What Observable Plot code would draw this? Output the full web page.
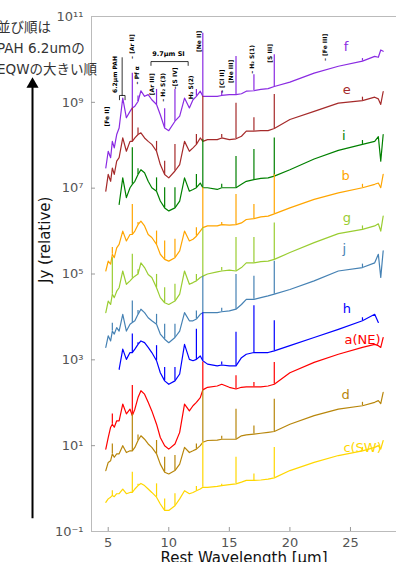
<!DOCTYPE html>
<html><head><meta charset="utf-8">
<script src="https://cdn.jsdelivr.net/npm/d3@7"></script>
<script src="https://cdn.jsdelivr.net/npm/@observablehq/plot@0.6"></script>
<style>
html,body{margin:0;padding:0;background:#fff;overflow:hidden;}
#wrap{position:relative;width:396px;height:562px;overflow:hidden;}
#title{position:absolute;left:-3px;top:17px;font-family:"DejaVu Sans","Noto Sans CJK JP",sans-serif;font-size:13.5px;line-height:21px;color:#333;white-space:nowrap;}
</style></head>
<body><div id="wrap"><div id="chart"></div><div id="title">並び順は<br>PAH 6.2umの<br>EQWの大きい順</div></div>
<script>
// ---- data (flux values stored as log10 of relative Jy) ----
const wavelength = [4.8,5.0,5.2,5.34,5.5,5.7,5.9,6.2,6.5,6.8,6.99,7.2,7.46,7.7,8.0,8.3,8.6,8.99,9.3,9.66,10.0,10.51,10.9,11.3,11.7,12.0,12.28,12.6,12.81,13.2,14.0,14.37,15.0,15.55,16.0,16.4,17.03,17.6,18.2,18.71,20.0,22.0,24.0,25.99,27.0,27.3,27.5,27.7];
const lineWavelengths = [5.34,6.99,7.46,8.99,9.66,10.51,12.28,12.81,14.37,15.55,17.03,18.71,25.99];

const seriesNames = ["f","e","i","b","g","j","h","a(NE)","d","c(SW)"];
const seriesColors = ["#8a2be2","#a52a2a","#008000","#ffa500","#9acd32","#4682b4","#0000ff","#ff0000","#b8860b","#ffd700"];

const f_log = [7.47,7.86,7.71,8.09,7.94,8.25,8.40,9.10,8.64,8.79,8.87,8.91,9.02,9.27,9.14,9.18,9.06,8.95,8.71,8.40,8.34,8.56,8.68,9.10,8.87,9.06,9.14,9.26,9.14,9.14,9.14,9.16,9.18,9.18,9.20,9.26,9.27,9.30,9.32,9.37,9.47,9.68,9.84,9.96,10.07,10.05,10.22,10.19];
const f_lines = [null,9.68,9.15,9.30,8.85,9.30,9.30,10.61,9.26,10.07,9.64,10.11,10.02];

const e_log = [6.93,7.32,7.16,7.47,7.32,7.63,7.71,8.17,7.86,8.09,8.09,8.17,8.25,8.29,8.17,8.09,8.02,7.86,7.55,7.32,7.24,7.40,7.55,8.09,7.86,7.94,8.02,8.17,8.09,8.13,8.13,8.17,8.13,8.15,8.21,8.33,8.33,8.34,8.34,8.39,8.60,8.79,8.98,9.04,9.12,9.08,8.95,9.25];
const e_lines = [null,8.87,8.40,8.09,7.63,8.02,8.25,9.14,8.25,8.98,8.64,9.18,9.12];

const i_log = [null,null,null,null,null,null,6.62,7.24,6.78,7.01,7.09,7.16,7.32,7.43,7.36,7.16,7.01,6.93,6.70,6.54,6.47,6.54,6.70,7.24,6.93,6.97,7.01,7.12,7.01,7.01,6.97,7.01,7.01,7.01,7.09,7.16,7.20,7.23,7.24,7.28,7.43,7.68,7.88,8.02,8.09,8.20,7.63,8.25];
const i_lines = [null,7.94,7.45,7.24,7.01,7.01,7.32,8.13,7.09,7.74,7.90,8.17,8.11];

const b_log = [5.07,5.30,5.23,5.46,5.38,5.61,5.69,6.00,5.77,5.92,5.92,6.00,6.15,6.23,6.12,5.92,5.85,5.69,5.46,5.34,5.30,5.38,5.54,6.00,5.77,5.81,5.88,6.00,6.08,6.12,6.12,6.15,6.14,6.15,6.19,6.27,6.29,6.33,6.35,6.40,6.54,6.74,6.89,7.01,7.09,7.12,7.01,7.32];
const b_lines = [5.62,6.62,6.20,6.00,5.77,5.81,6.08,7.01,6.20,6.85,6.62,7.32,7.09];

const g_log = [4.10,4.37,4.29,4.53,4.45,4.60,4.68,5.07,4.76,4.84,4.90,4.95,5.00,5.26,5.15,4.99,4.92,4.68,4.45,4.33,4.29,4.37,4.53,5.07,4.76,4.80,4.84,4.92,4.95,5.00,5.05,5.07,5.09,5.07,5.15,5.26,5.26,5.29,5.30,5.34,5.50,5.73,5.94,6.04,6.12,6.17,6.00,6.35];
const g_lines = [5.38,5.46,5.10,4.99,4.68,4.76,4.99,6.08,5.15,5.85,5.85,6.19,6.12];

const j_log = [3.29,3.56,3.44,3.67,3.60,3.75,3.67,4.06,3.67,3.83,3.87,3.91,4.06,4.18,4.10,3.98,3.91,3.83,3.60,3.48,3.40,3.52,3.67,4.10,3.91,3.91,3.95,4.06,4.10,4.10,4.10,4.12,4.14,4.18,4.29,4.41,4.41,4.45,4.49,4.53,4.64,4.84,5.07,5.15,5.26,5.46,4.92,5.54];
const j_lines = [3.85,4.37,4.15,4.06,3.83,3.83,4.14,4.95,4.20,4.99,4.95,5.30,5.23];

const h_log = [null,null,null,null,null,null,2.78,3.25,3.01,3.17,3.17,3.25,3.36,3.44,3.40,3.29,3.17,2.98,2.70,2.51,2.43,2.51,2.67,3.36,3.01,2.98,3.01,3.09,2.98,2.90,2.86,2.88,2.86,2.86,3.05,3.13,3.17,3.17,3.17,3.21,3.33,3.52,3.71,3.91,4.06,3.87,null,null];
const h_lines = [null,3.60,3.40,3.33,2.82,2.82,3.71,4.10,2.95,3.64,4.26,3.91,3.98];

const a_log = [0.92,1.19,1.43,1.50,1.43,1.58,1.58,1.97,1.74,1.85,1.70,1.85,2.12,2.28,2.20,2.01,1.81,1.50,1.19,1.00,0.92,1.04,1.31,1.97,1.81,1.93,2.01,2.12,2.30,2.36,2.39,2.43,2.36,2.32,2.36,2.37,2.37,2.37,2.39,2.43,2.70,2.94,3.13,3.29,3.36,3.33,3.29,3.52];
const a_lines = [1.74,2.40,null,null,null,null,null,2.95,null,2.63,2.47,2.94,null];

const d_log = [0.42,0.61,0.65,0.81,0.73,0.81,0.81,1.00,0.84,0.88,0.88,0.96,1.12,1.23,1.15,1.04,0.96,0.81,0.57,0.38,0.34,0.42,0.57,0.96,0.84,0.88,0.92,1.00,1.08,1.12,1.13,1.15,1.15,1.15,1.23,1.25,1.27,1.29,1.31,1.33,1.50,1.70,1.85,1.93,2.01,2.05,1.98,2.24];
const d_lines = [1.04,1.74,1.25,1.12,0.73,0.77,1.04,2.30,1.22,1.85,1.46,2.08,2.01];

const c_log = [-0.32,-0.24,-0.20,-0.16,-0.19,-0.12,-0.12,-0.01,-0.12,-0.09,-0.09,-0.01,0.07,0.12,0.07,-0.01,-0.09,-0.20,-0.36,-0.51,-0.51,-0.40,-0.24,-0.05,-0.12,-0.09,-0.05,-0.01,0.03,0.03,0.05,0.07,0.09,0.11,0.15,0.19,0.19,0.20,0.22,0.25,0.42,0.61,0.77,0.88,0.96,1.00,0.92,1.12];
const c_lines = [-0.05,0.38,0.10,0.11,-0.24,-0.12,0.05,1.08,0.10,0.73,0.34,0.96,0.96];

const seriesLogs = [f_log,e_log,i_log,b_log,g_log,j_log,h_log,a_log,d_log,c_log];
const seriesLines = [f_lines,e_lines,i_lines,b_lines,g_lines,j_lines,h_lines,a_lines,d_lines,c_lines];

// series label positions (wavelength, log10 flux)
const labelWl  = [24.64,24.7,24.45,24.6,24.7,24.5,24.7,26.0,24.6,26.0];
const labelLog = [10.30,9.30,8.21,7.28,6.30,5.58,4.19,3.47,2.19,0.95];

// feature annotations
const annotText  = ["[Fe II]","6.2μm PAH","– [Ar II]","– Pf α","[Ar III]","– H₂ S(3)","–[S IV]","H₂ S(2)","[Ne II]","– [Cl II]","[Ne III]","– H₂ S(1)","[S III]","– [Fe III]"];
const annotWl    = [4.94,5.6,6.93,7.42,8.58,9.57,10.48,11.88,12.5,14.40,15.15,16.84,18.37,22.9];
const annotLog   = [8.67,9.65,10.30,9.63,9.42,9.35,9.56,9.35,10.42,9.49,9.72,10.0,10.14,10.28];
const siLabel = "9.7μm SI";
const siLabelWl = 9.98, siLabelLog = 10.14;
const siBracketWl  = [8.53,8.53,11.6,11.6];
const siBracketLog = [9.86,9.95,9.95,9.86];
const pahStemWl  = [6.15,6.15];
const pahStemLog = [10.04,9.16];
const pahBracketWl  = [5.93,5.93,6.39,6.39];
const pahBracketLog = [9.06,9.16,9.16,9.06];

// axes
const xDomain = [3.62, 28.8];
const yDomain = [0.1, 1e11];
const xTicks = [5,10,15,20,25];
const yTicks = [1e-1,1e1,1e3,1e5,1e7,1e9,1e11];
const yTickLabels = ["10⁻¹","10¹","10³","10⁵","10⁷","10⁹","10¹¹"];
const xLabel = "Rest Wavelength [μm]";
const yLabel = "Jy (relative)";
const arrowWl = -1.25;
const arrowLog = [-0.70, 9.35];
const arrowTipLog = 9.42;

// ---- build tables ----
const spectra = [];
const spikes = [];
seriesNames.forEach((name, s) => {
  const logs = seriesLogs[s];
  wavelength.forEach((w, k) => {
    spectra.push({series: name, wl: w, flux: logs[k] == null ? NaN : 10 ** logs[k]});
  });
  lineWavelengths.forEach((w, k) => {
    const peak = seriesLines[s][k];
    const idx = wavelength.indexOf(w);
    if (peak == null || logs[idx] == null) return;
    spikes.push({series: name, wl: w, base: 10 ** logs[idx], peak: 10 ** peak});
  });
});
const labels = seriesNames.map((name, s) => ({series: name, wl: labelWl[s], flux: 10 ** labelLog[s]}));
const annots = annotText.map((t, k) => ({text: t, wl: annotWl[k], flux: 10 ** annotLog[k]}));
const siBracket = siBracketWl.map((w, k) => ({wl: w, flux: 10 ** siBracketLog[k]}));
const pahStem = pahStemWl.map((w, k) => ({wl: w, flux: 10 ** pahStemLog[k]}));
const pahBracket = pahBracketWl.map((w, k) => ({wl: w, flux: 10 ** pahBracketLog[k]}));
const tickLabelOf = new Map(yTicks.map((t, k) => [t, yTickLabels[k]]));

const spine = "#bbbbbb";
const plot = Plot.plot({
  width: 396, height: 562,
  marginLeft: 91, marginRight: 0, marginTop: 16, marginBottom: 31,
  style: {fontFamily: "DejaVu Sans, Noto Sans CJK JP, sans-serif", fontSize: "13px", color: "#555", background: "transparent", overflow: "visible"},
  x: {domain: xDomain},
  y: {type: "log", domain: yDomain},
  color: {domain: seriesNames, range: seriesColors},
  marks: [
    Plot.axisX({ticks: xTicks, tickSize: 0, tickPadding: 6, tickFormat: d => String(d), label: null, fontSize: 13}),
    Plot.axisY({ticks: yTicks, tickSize: 0, tickPadding: 8, tickFormat: d => tickLabelOf.get(d), label: null, fontSize: 13}),
    Plot.ruleY([yDomain[0], yDomain[1]], {stroke: spine}),
    Plot.ruleX([xDomain[0]], {stroke: spine}),
    Plot.ruleY(yTicks.slice(1, -1), {x1: xDomain[0], x2: xDomain[0] + 0.33, stroke: "#999"}),
    Plot.ruleX(xTicks, {y1: yDomain[0], y2: 0.124, stroke: "#999"}),
    Plot.line(spectra, {x: "wl", y: "flux", z: "series", stroke: "series", strokeWidth: 1.2}),
    Plot.ruleX(spikes, {x: "wl", y1: "base", y2: "peak", stroke: "series", strokeWidth: 1.2}),
    Plot.text(labels, {x: "wl", y: "flux", text: "series", fill: "series", fontSize: 13}),
    Plot.text(annots, {x: "wl", y: "flux", text: "text", rotate: -90, fontSize: 6, fontWeight: "bold", fill: "black"}),
    Plot.text([siLabel], {x: siLabelWl, y: 10 ** siLabelLog, text: d => d, fontSize: 6.5, fontWeight: "bold", fill: "black"}),
    Plot.line(siBracket, {x: "wl", y: "flux", stroke: "black", strokeWidth: 0.8}),
    Plot.line(pahStem, {x: "wl", y: "flux", stroke: "black", strokeWidth: 0.8}),
    Plot.line(pahBracket, {x: "wl", y: "flux", stroke: "black", strokeWidth: 0.8}),
    Plot.ruleX([arrowWl], {y1: 10 ** arrowLog[0], y2: 10 ** arrowLog[1], stroke: "black", strokeWidth: 2}),
    Plot.dot([arrowWl], {x: d => d, y: 10 ** arrowTipLog, symbol: "triangle", r: 4.5, fill: "black", stroke: null}),
    Plot.text([xLabel], {frameAnchor: "bottom", dy: 31, text: d => d, fontSize: 15, fill: "#111"}),
    Plot.text([yLabel], {frameAnchor: "left", dx: -46, dy: 9, rotate: -90, text: d => d, fontSize: 15, fill: "#111"})
  ]
});
document.getElementById("chart").appendChild(plot);
</script>
</body></html>
